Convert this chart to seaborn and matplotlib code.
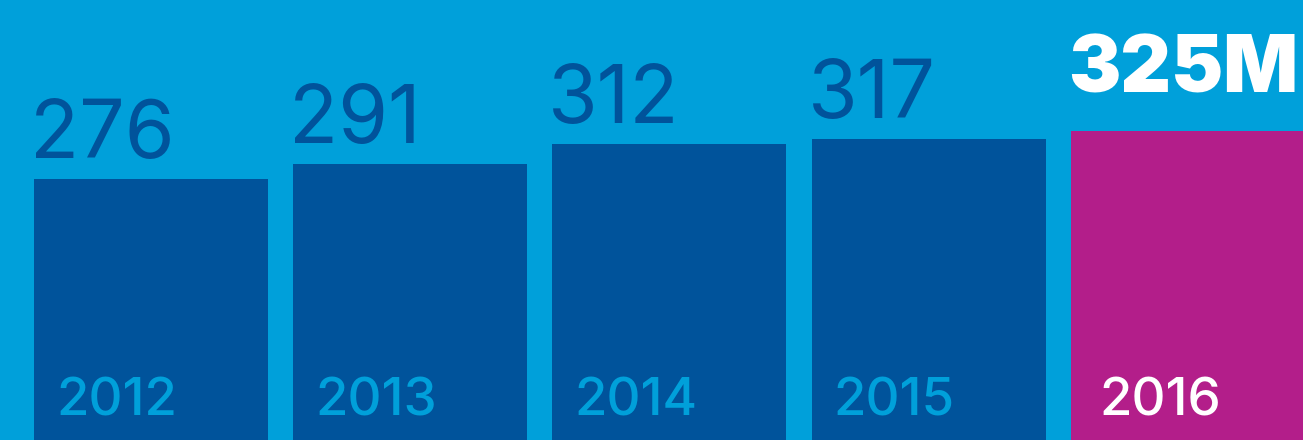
import matplotlib
matplotlib.use("Agg")
import matplotlib.pyplot as plt
import seaborn as sns
import pandas as pd

# datos del gráfico
years = ["2012", "2013", "2014", "2015", "2016"]
values = [276, 291, 312, 317, 325]
value_labels = ["276", "291", "312", "317", "325M"]

BG = "#00A0DA"
DARK = "#00539B"
MAGENTA = "#B31E8A"
bar_colors = [DARK, DARK, DARK, DARK, MAGENTA]

df = pd.DataFrame({"year": years, "value": values})

sns.set_theme(style="white")
plt.rcParams["font.family"] = ["Inter", "DejaVu Sans"]

fig = plt.figure(figsize=(13.03, 4.40), dpi=100, facecolor=BG)
ax = fig.add_axes([0, 0, 1, 1])
ax.set_facecolor(BG)

width = 0.9026
sns.barplot(data=df, x="year", y="value", hue="year", palette=bar_colors,
            width=width, legend=False, ax=ax, saturation=1, linewidth=0)

ax.set_xlim(-0.582, 4.444)
ax.set_ylim(9.7, 458.7)
ax.axis("off")

for i, (v, lab) in enumerate(zip(values, value_labels)):
    left = i - width / 2
    last = i == len(values) - 1
    # valor encima de la barra
    if last:
        ax.annotate(lab, xy=(left, v), xytext=(-3, 39), textcoords="offset pixels",
                    ha="left", va="baseline", fontsize=56.5, color="white", fontweight="black")
    else:
        ax.annotate(lab, xy=(left, v), xytext=(-4, 21), textcoords="offset pixels",
                    ha="left", va="baseline", fontsize=58, color=DARK, fontweight="normal")
    # año dentro de la barra
    ax.annotate(years[i], xy=(left, 0), xycoords=("data", "axes fraction"),
                xytext=(28 if last else 22, 25), textcoords="offset pixels",
                ha="left", va="baseline",
                fontsize=38, color="white" if last else BG, fontweight="medium")

fig.savefig("out.png", dpi=100, facecolor=BG)
